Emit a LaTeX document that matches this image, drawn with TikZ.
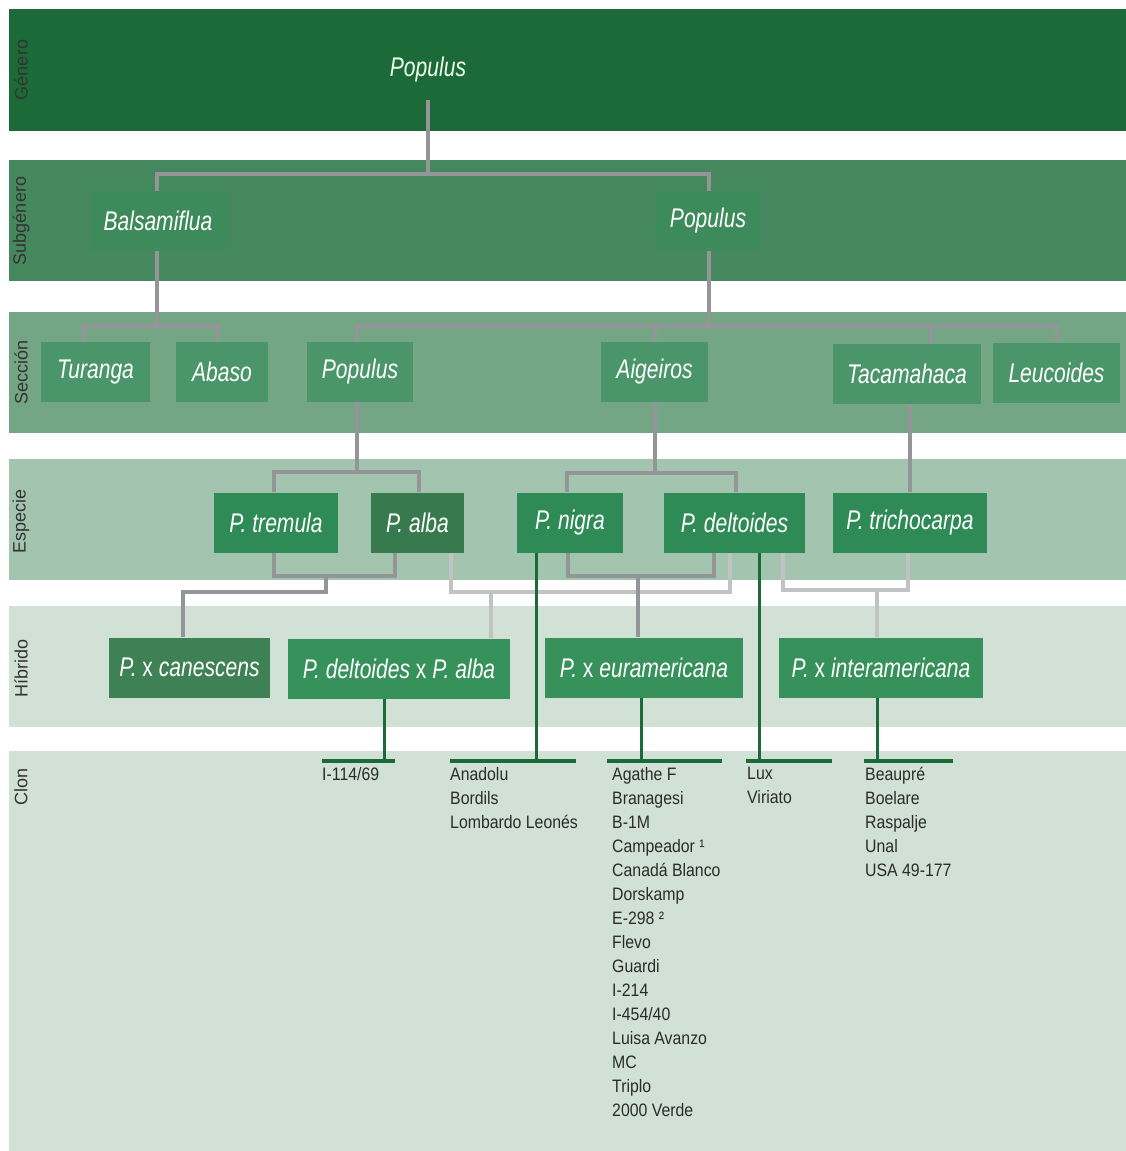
\documentclass[tikz,border=0pt]{standalone}
\usepackage{fontspec}
\setmainfont{Liberation Sans}
\newfontfamily\boxfont[FakeStretch=0.78]{Liberation Sans}
\newfontfamily\clonfont[FakeStretch=0.88]{Liberation Sans}
\usetikzlibrary{positioning}

\definecolor{genband}{HTML}{1B6A37}
\definecolor{subband}{HTML}{46885E}
\definecolor{subbox}{HTML}{3D8A5A}
\definecolor{secband}{HTML}{74A585}
\definecolor{secbox}{HTML}{4A966A}
\definecolor{espband}{HTML}{A3C4AF}
\definecolor{espbox}{HTML}{2E8B55}
\definecolor{albabox}{HTML}{367A4D}
\definecolor{hybband}{HTML}{D1E1D6}
\definecolor{hybbox}{HTML}{37915A}
\definecolor{canbox}{HTML}{3D8154}
\definecolor{linegray}{HTML}{939598}
\definecolor{hybgray}{HTML}{C1C2C4}
\definecolor{darkgreen}{HTML}{1B6B38}
\definecolor{rankgray}{HTML}{333333}
\definecolor{clontext}{HTML}{2B2B2B}

\begin{document}
\begin{tikzpicture}[x=1pt,y=-1pt
  ,line cap=butt
  ,line join=miter]
  \tikzstyle{rank}=[rotate=90,text=rankgray,inner sep=0pt,font=\fontsize{18}{20}\selectfont]
  \tikzstyle{taxon}=[text=white,inner sep=0pt,minimum height=60pt,font=\boxfont\itshape\fontsize{27}{30}\selectfont]
  \tikzstyle{gline}=[draw=linegray,line width=4pt]
  \tikzstyle{lline}=[draw=hybgray,line width=4pt]
  \tikzstyle{vline}=[draw=darkgreen,line width=3pt]
  \tikzstyle{clonbar}=[draw=darkgreen,line width=4pt]
  \tikzstyle{clones}=[anchor=north west,align=left,inner sep=0pt,text=clontext,font=\clonfont\fontsize{18}{24}\selectfont]

  \useasboundingbox (0,0) rectangle (1126,1151);

  % bands
  \fill[genband] (9,9) rectangle (1126,131);
  \fill[subband] (9,160) rectangle (1126,281);
  \fill[secband] (9,312) rectangle (1126,433);
  \fill[espband] (9,459) rectangle (1126,580);
  \fill[hybband] (9,606) rectangle (1126,727);
  \fill[hybband] (9,751) rectangle (1126,1151);

  \node[rank] (lgen) at (21,70) {Género};
  \node[rank] (lsub) at (21,221) {Subgénero};
  \node[rank] (lsec) at (21,372) {Sección};
  \node[rank] (lesp) at (21,521) {Especie};
  \node[rank] (lhyb) at (21,668) {Híbrido};
  \node[rank] (lclo) at (21,787) {Clon};

  % genero / subgenero
  \node[taxon,text=white!94!green] (gen) at (428,70) {Populus};
  \node[taxon,fill=subbox,minimum width=136pt] (bal) at (158,221) {Balsamiflua};
  \node[taxon,fill=subbox,minimum width=104pt] (popsg) at (708,221) {Populus};

  % secciones
  \node[taxon,fill=secbox,minimum width=109pt] (tur) at (95.5,372) {Turanga};
  \node[taxon,fill=secbox,minimum width=92pt] (aba) at (222,372) {Abaso};
  \node[taxon,fill=secbox,minimum width=106pt] (popsec) at (360,372) {Populus};
  \node[taxon,fill=secbox,minimum width=107pt] (aig) at (654.5,372) {Aigeiros};
  \node[taxon,fill=secbox,minimum width=148pt] (tac) at (907,374) {Tacamahaca};
  \node[taxon,fill=secbox,minimum width=127pt] (leu) at (1056.5,372.5) {Leucoides};

  % especies
  \node[taxon,fill=espbox,minimum width=124pt] (tre) at (276,522.5) {P. tremula};
  \node[taxon,fill=albabox,minimum width=93pt] (alb) at (417.5,522.5) {P. alba};
  \node[taxon,fill=espbox,minimum width=106pt] (nig) at (570,522.5) {P. nigra};
  \node[taxon,fill=espbox,minimum width=141pt] (del) at (734.5,522.5) {P. deltoides};
  \node[taxon,fill=espbox,minimum width=154pt] (tri) at (910,522.5) {P. trichocarpa};

  % hibridos
  \node[taxon,fill=canbox,minimum width=161pt] (can) at (189.5,667.5) {P. \textup{x} canescens};
  \node[taxon,fill=hybbox,minimum width=222pt] (dxa) at (399,668.5) {P. deltoides \textup{x} P. alba};
  \node[taxon,fill=hybbox,minimum width=198pt] (eur) at (644,667.5) {P. \textup{x} euramericana};
  \node[taxon,fill=hybbox,minimum width=204pt] (int) at (881,667.5) {P. \textup{x} interamericana};

  % clones
  \node[clones] (cl1) at (322,767) {I-114/69};
  \node[clones] (cl2) at (450,767) {Anadolu\\Bordils\\Lombardo Leonés};
  \node[clones] (cl3) at (612,767) {Agathe F\\Branagesi\\B-1M\\Campeador ¹\\Canadá Blanco\\Dorskamp\\E-298 ²\\Flevo\\Guardi\\I-214\\I-454/40\\Luisa Avanzo\\MC\\Triplo\\2000 Verde};
  \node[clones] (cl4) at (747,767) {Lux\\Viriato};
  \node[clones] (cl5) at (865,767) {Beaupré\\Boelare\\Raspalje\\Unal\\USA 49-177};

  % genero -> subgenero
  \draw[gline] (gen.south) -- ++(0,74);
  \draw[gline] ([xshift=-1pt]bal.north) -- ++(0,-17) -| ([xshift=1pt]popsg.north);

  % subgenero -> seccion
  \draw[gline] ([xshift=-1pt]bal.south) -- ++(0,75);
  \draw[gline] ([xshift=-11.5pt]tur.north) -- ++(0,-16) -| ([xshift=-4pt]aba.north);
  \draw[gline] ([xshift=1pt]popsg.south) -- ++(0,75);
  \draw[gline] ([xshift=-3pt]popsec.north) -- ++(0,-16) -| ([xshift=0.5pt]leu.north);
  \draw[gline] ([xshift=0.5pt]aig.north) -- ++(0,-16);
  \draw[gline] ([xshift=24pt]tac.north) -- ++(0,-18);

  % seccion -> especie
  \draw[gline] ([xshift=-3pt]popsec.south) -- ++(0,71);
  \draw[gline] ([xshift=-2pt]tre.north) -- ++(0,-20) -| ([xshift=1.5pt]alb.north);
  \draw[gline] ([xshift=0.5pt]aig.south) -- ++(0,72);
  \draw[gline] ([xshift=-3pt]nig.north) -- ++(0,-19) -| ([xshift=1.5pt]del.north);
  \draw[gline] (tri.north) -- (tri.north |- tac.south);

  % especie -> hibrido (light)
  \draw[lline] ([xshift=33pt]alb.south) -- ++(0,39) -| ([xshift=-4.5pt]del.south);
  \draw[lline] ([xshift=92pt]dxa.north) -- ++(0,-47);
  \draw[lline] ([xshift=48.5pt]del.south) -- ++(0,37.5) -| ([xshift=-2pt]tri.south);
  \draw[lline] ([xshift=-4pt]int.north) -- ++(0,-47.5);

  % especie -> hibrido
  \draw[gline] ([xshift=-2pt]tre.south) -- ++(0,23) -| ([xshift=-22.5pt]alb.south);
  \draw[gline] ([xshift=-6.5pt]can.north) -- ++(0,-45) -| ++(143,-18);
  \draw[gline] ([xshift=-2pt]nig.south) -- ++(0,23) -| ([xshift=-20.5pt]del.south);
  \draw[gline] ([xshift=-6pt]eur.north) -- ++(0,-63);

  % -> clones
  \draw[vline] ([xshift=-34pt]nig.south) -- ++(0,208.5);
  \draw[vline] ([xshift=24.5pt]del.south) -- ++(0,208.5);
  \draw[vline] ([xshift=-15pt]dxa.south) -- ++(0,62.5);
  \draw[vline] ([xshift=-3pt]eur.south) -- ++(0,63.5);
  \draw[vline] ([xshift=-4pt]int.south) -- ++(0,63.5);
  \draw[clonbar] ([yshift=6pt]cl1.north west) -- ++(73,0);
  \draw[clonbar] ([yshift=6pt]cl2.north west) -- ++(126,0);
  \draw[clonbar] ([xshift=-5pt,yshift=6pt]cl3.north west) -- ++(115,0);
  \draw[clonbar] ([xshift=-1pt,yshift=6pt]cl4.north west) -- ++(86,0);
  \draw[clonbar] ([xshift=-1pt,yshift=6pt]cl5.north west) -- ++(89,0);
\end{tikzpicture}
\end{document}
